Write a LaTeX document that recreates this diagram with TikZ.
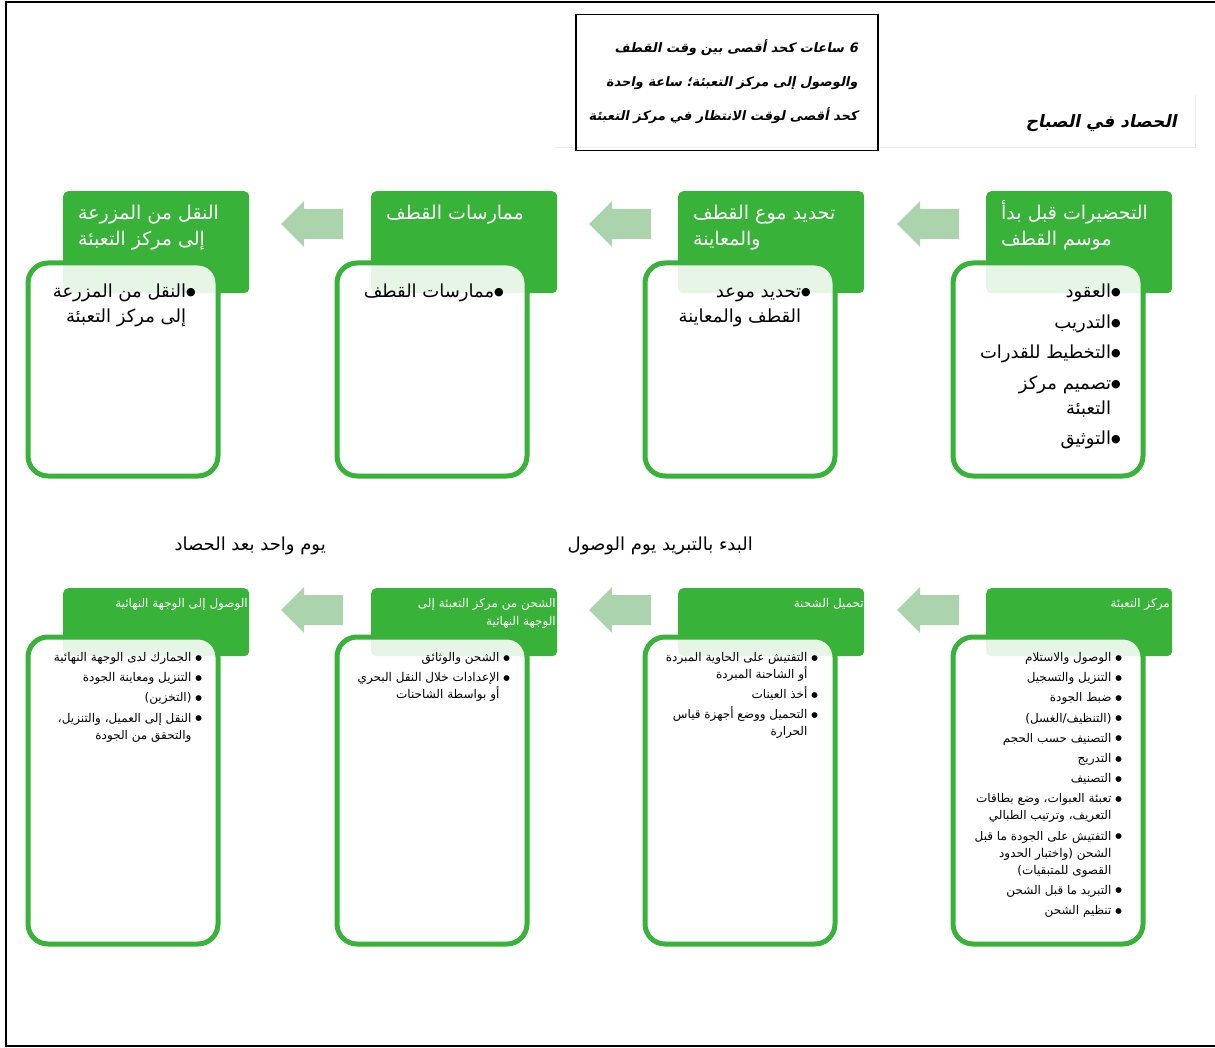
\documentclass[tikz,border=0pt]{standalone}
\usepackage{fontspec}
\TeXXeTstate=1
\newfontfamily\arabicfont[Script=Arabic]{DejaVu Sans}
\newfontfamily\arabicbi[Script=Arabic,FakeSlant=0.2]{DejaVu Sans Bold}
\newcommand\AR[1]{\beginR#1\endR}
\newcommand\BL{\hbox{\raise2.4pt\hbox{\fontsize{11}{11}\selectfont ●}}}
\newcommand\BLs{\hbox{\raise1.5pt\hbox{\fontsize{7.5}{7.5}\selectfont ●}}}
\newcommand\HG[1]{\AR{#1}\hbox{\phantom{\BL}}}
\newcommand\HGs[1]{\AR{#1}\hbox{\phantom{\BLs}\ }}
% line helpers
\newcommand\Rline[1]{\hbox to \hsize{\hfil#1}}
\newcommand\Lline[1]{\hbox to \hsize{#1\hfil}}
\newcommand\Vlines[3]{\vtop{\hsize=#1pt\baselineskip=#2pt\lineskiplimit=-100pt\lineskip=0pt #3}}
\newcommand\Ri[1]{\Rline{\AR{\BL #1}}}
\newcommand\Rh[1]{\Rline{\HG{#1}}}
\newcommand\Rs[1]{\Rline{\AR{\BLs\ #1}}}
\newcommand\Rhs[1]{\Rline{\HGs{#1}}}
\newcommand\Rp[1]{\Rline{\AR{#1}}}
\newcommand\Lp[1]{\Lline{\AR{#1}}}
\newcommand\Gp{\vskip3.2pt}
\definecolor{hdrgreen}{RGB}{56,178,56}
\definecolor{arrgreen}{RGB}{172,212,172}
\newcommand\blockarrow[2]{\fill[arrgreen] (#1,#2) -- ++(23,-23) -- ++(0,8) -- ++(39,0) -- ++(0,30) -- ++(-39,0) -- ++(0,8) -- cycle;}
\begin{document}
\begin{tikzpicture}[x=1pt,y=-1pt,
  hdr/.style={fill=hdrgreen, rounded corners=5, inner sep=0, anchor=north west, minimum width=186},
  bodybox/.style={draw=hdrgreen, line width=5, fill=white, fill opacity=0.88, rounded corners=20, inner sep=0, anchor=north west, minimum width=190},
  thtext/.style={text=white, anchor=base west, inner sep=0, font=\arabicfont\fontsize{19}{26}\selectfont},
  tbtext/.style={anchor=base east, inner sep=0, font=\arabicfont\fontsize{18}{25}\selectfont},
  bhtext/.style={text=white, anchor=base east, inner sep=0, font=\arabicfont\fontsize{12}{18}\selectfont},
  bbtext/.style={anchor=base east, inner sep=0, font=\arabicfont\fontsize{12}{17}\selectfont},
  title/.style={anchor=base east, inner sep=0, font=\arabicfont\fontsize{18}{21}\selectfont}
]
\useasboundingbox (0,0) rectangle (1215,1048);
% frame
\draw[line width=2] (1230,2) -- (6,2) -- (6,1046) -- (1230,1046);
\draw[gray!15, line width=1] (555,148) -- (1195,148) -- (1195,95);

% note box
\node[draw, line width=1.5, minimum width=302, minimum height=136, anchor=north west, inner sep=0] (note) at (575,14) {};
\node[anchor=base east, inner sep=0, font=\arabicbi\fontsize{13}{34}\selectfont] (notetext) at (858,53)
 {\Vlines{290}{34}{\Rp{6 ساعات كحد أقصى بين وقت القطف}\Rp{والوصول إلى مركز التعبئة؛ ساعة واحدة}\Rp{كحد أقصى لوقت الانتظار في مركز التعبئة}}};
\node[title, font=\arabicbi\fontsize{17}{20}\selectfont] (morning) at (1177,128) {\AR{الحصاد في الصباح}};
\node[title] (coolstart) at (753,550) {\AR{البدء بالتبريد يوم الوصول}};
\node[title] (dayafter) at (326,550) {\AR{يوم واحد بعد الحصاد}};

% ---------- top row ----------
\node[hdr, minimum height=102] (th1) at (63,191) {};
\node[hdr, minimum height=102] (th2) at (371,191) {};
\node[hdr, minimum height=102] (th3) at (678,191) {};
\node[hdr, minimum height=102] (th4) at (986,191) {};
\node[bodybox, minimum height=213] (tb1) at (25.5,260.5) {};
\node[bodybox, minimum height=213] (tb2) at (334.5,260.5) {};
\node[bodybox, minimum height=213] (tb3) at (642.5,260.5) {};
\node[bodybox, minimum height=213] (tb4) at (950.5,260.5) {};
\blockarrow{281}{224}
\blockarrow{589}{224}
\blockarrow{897}{224}

\node[thtext] (tht1) at (78,220) {\Vlines{180}{26}{\Lp{النقل من المزرعة}\Lp{إلى مركز التعبئة}}};
\node[thtext] (tht2) at (386,220) {\Vlines{180}{26}{\Lp{ممارسات القطف}}};
\node[thtext] (tht3) at (693,220) {\Vlines{180}{26}{\Lp{تحديد موع القطف}\Lp{والمعاينة}}};
\node[thtext] (tht4) at (1001,220) {\Vlines{180}{26}{\Lp{التحضيرات قبل بدأ}\Lp{موسم القطف}}};

\node[tbtext] (tbt1) at (196,298) {\Vlines{190}{25}{\Ri{النقل من المزرعة}\Rh{إلى مركز التعبئة}}};
\node[tbtext] (tbt2) at (504,298) {\Vlines{190}{25}{\Ri{ممارسات القطف}}};
\node[tbtext] (tbt3) at (811,298) {\Vlines{190}{25}{\Ri{تحديد موعد}\Rh{القطف والمعاينة}}};
\node[tbtext] (tbt4) at (1121,298) {\Vlines{190}{25}{\Ri{العقود}\vskip5.5pt \Ri{التدريب}\vskip5.5pt \Ri{التخطيط للقدرات}\vskip5.5pt \Ri{تصميم مركز}\Rh{التعبئة}\vskip5.5pt \Ri{التوثيق}}};

% ---------- bottom row ----------
\node[hdr, minimum height=68] (bh1) at (63,588) {};
\node[hdr, minimum height=68] (bh2) at (371,588) {};
\node[hdr, minimum height=68] (bh3) at (678,588) {};
\node[hdr, minimum height=68] (bh4) at (986,588) {};
\node[bodybox, minimum height=307] (bb1) at (25.5,634.5) {};
\node[bodybox, minimum height=307] (bb2) at (334.5,634.5) {};
\node[bodybox, minimum height=307] (bb3) at (642.5,634.5) {};
\node[bodybox, minimum height=307] (bb4) at (950.5,634.5) {};
\blockarrow{281}{610}
\blockarrow{589}{610}
\blockarrow{897}{610}

\node[bhtext] (bht1) at (248,607) {\Vlines{180}{18}{\Rp{الوصول إلى الوجهة النهائية}}};
\node[bhtext] (bht2) at (556,607) {\Vlines{180}{18}{\Rp{الشحن من مركز التعبئة إلى}\Rp{الوجهة النهائية}}};
\node[bhtext] (bht3) at (864,607) {\Vlines{180}{18}{\Rp{تحميل الشحنة}}};
\node[bhtext] (bht4) at (1170,607) {\Vlines{180}{18}{\Rp{مركز التعبئة}}};

\node[bbtext] (bbt1) at (202,661.5) {\Vlines{190}{17}{\Rs{الجمارك لدى الوجهة النهائية}\Gp \Rs{التنزيل ومعاينة الجودة}\Gp \Rs{(التخزين)}\Gp \Rs{النقل إلى العميل، والتنزيل،}\Rhs{والتحقق من الجودة}}};
\node[bbtext] (bbt2) at (510,661.5) {\Vlines{190}{17}{\Rs{الشحن والوثائق}\Gp \Rs{الإعدادات خلال النقل البحري}\Rhs{أو بواسطة الشاحنات}}};
\node[bbtext] (bbt3) at (818,661.5) {\Vlines{190}{17}{\Rs{التفتيش على الحاوية المبردة}\Rhs{أو الشاحنة المبردة}\Gp \Rs{أخذ العينات}\Gp \Rs{التحميل ووضع أجهزة قياس}\Rhs{الحرارة}}};
\node[bbtext] (bbt4) at (1122,661.5) {\Vlines{190}{17}{\Rs{الوصول والاستلام}\Gp \Rs{التنزيل والتسجيل}\Gp \Rs{ضبط الجودة}\Gp \Rs{(التنظيف/الغسل)}\Gp \Rs{التصنيف حسب الحجم}\Gp \Rs{التدريج}\Gp \Rs{التصنيف}\Gp \Rs{تعبئة العبوات، وضع بطاقات}\Rhs{التعريف، وترتيب الطبالي}\Gp \Rs{التفتيش على الجودة ما قبل}\Rhs{الشحن (واختبار الحدود}\Rhs{القصوى للمتبقيات)}\Gp \Rs{التبريد ما قبل الشحن}\Gp \Rs{تنظيم الشحن}}};
\end{tikzpicture}
\end{document}
